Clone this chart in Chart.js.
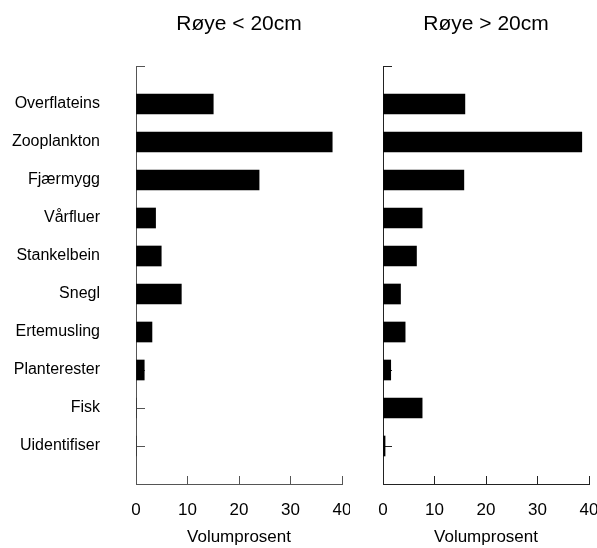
<!DOCTYPE html>
<html>
<head>
<meta charset="utf-8">
<script src="https://cdn.jsdelivr.net/npm/chart.js@4"></script>
<style>
  body { margin: 0; background: #fff; }
  #wrap { position: relative; width: 597px; height: 548px; }
  .panel { position: absolute; top: 0; height: 548px; }
  #left { left: 0; width: 350px; }
  #right { left: 355px; width: 242px; }
</style>
</head>
<body>
<div id="wrap">
  <div class="panel" id="left"><canvas id="chartSmall"></canvas></div>
  <div class="panel" id="right"><canvas id="chartLarge"></canvas></div>
</div>
<script>
// byttedyr i mageinnholdet, volumprosent
var categories = ['Overflateins', 'Zooplankton', 'Fjærmygg', 'Vårfluer', 'Stankelbein',
                  'Snegl', 'Ertemusling', 'Planterester', 'Fisk', 'Uidentifiser'];
var smallFish = [15.0, 38.1, 23.9, 3.8, 4.9, 8.8, 3.1, 1.6, 0, 0];
var largeFish = [15.9, 38.6, 15.7, 7.6, 6.5, 3.4, 4.3, 1.5, 7.6, 0.4];
var xTicks = [0, 10, 20, 30, 40];

Chart.defaults.font.family = 'Arial, "Liberation Sans", sans-serif';
Chart.defaults.color = '#000';
Chart.defaults.animation = false;

function makeChart(id, title, values, showLabels, axisColor, yWidth) {
  var ctx = document.getElementById(id).getContext('2d');
  return new Chart(ctx, {
    type: 'bar',
    data: {
      datasets: [{
        data: values.map(function (v, i) { return { x: v, y: i }; }),
        backgroundColor: '#000',
        borderWidth: 0,
        barThickness: 20
      }]
    },
    options: {
      indexAxis: 'y',
      responsive: true,
      maintainAspectRatio: false,
      layout: { padding: { left: 9, right: 8, top: 0, bottom: 0 } },
      plugins: { legend: { display: false }, tooltip: { enabled: false } },
      scales: {
        x: {
          type: 'linear',
          position: 'bottom',
          min: 0,
          max: 40,
          afterBuildTicks: function (scale) {
            scale.ticks = xTicks.map(function (v) { return { value: v }; });
          },
          afterFit: function (scale) {
            scale.height = 64;
            scale.paddingLeft = 0;
            scale.paddingRight = 0;
          },
          grid: { drawOnChartArea: false, tickLength: -8, color: axisColor, tickColor: axisColor },
          border: { color: axisColor, width: 1 },
          ticks: { font: { size: 17 }, padding: 24 },
          title: { display: true, text: 'Volumprosent', font: { size: 17 }, padding: { top: 10, bottom: 0 } }
        },
        top: {
          type: 'linear',
          position: 'top',
          min: 0,
          max: 40,
          grid: { display: false, drawTicks: false },
          border: { display: false },
          ticks: { display: false },
          afterFit: function (scale) {
            scale.height = 66;
            scale.paddingLeft = 0;
            scale.paddingRight = 0;
          },
          title: { display: true, text: title, font: { size: 21 }, padding: { top: 12, bottom: 0 } }
        },
        y: {
          type: 'linear',
          position: 'left',
          reverse: true,
          offset: false,
          min: -1,
          max: 10,
          afterBuildTicks: function (scale) {
            var t = [{ value: -1 }];
            categories.forEach(function (c, i) { t.push({ value: i }); });
            scale.ticks = t;
          },
          afterFit: function (scale) {
            scale.width = yWidth;
            scale.paddingTop = 0;
            scale.paddingBottom = 0;
          },
          grid: { drawOnChartArea: false, offset: false, tickLength: -9, color: axisColor, tickColor: axisColor },
          border: { color: axisColor, width: 1 },
          ticks: {
            font: { size: 16 },
            padding: 45,
            callback: function (v) { return showLabels && categories[v] ? categories[v] : ''; }
          }
        }
      }
    }
  });
}

makeChart('chartSmall', 'Røye < 20cm', smallFish, true, '#555', 127);
makeChart('chartLarge', 'Røye > 20cm', largeFish, false, '#222', 19);
</script>
</body>
</html>
